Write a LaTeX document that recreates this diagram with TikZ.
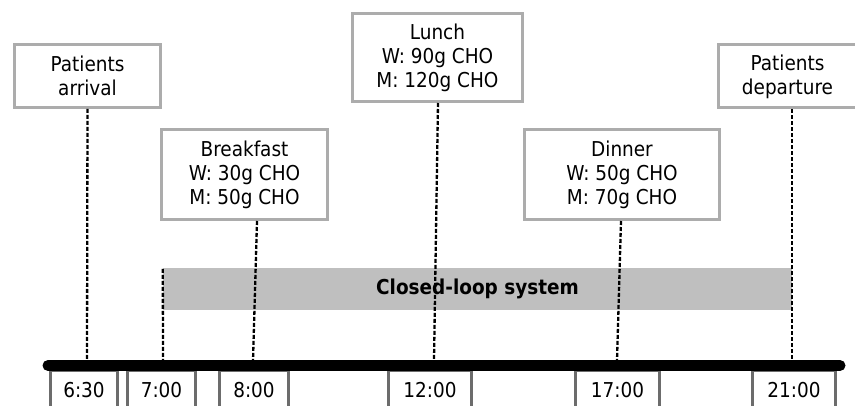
\documentclass[tikz,border=0pt]{standalone}
\usepackage{fontspec}
\setmainfont{DejaVu Sans Condensed}
\begin{document}
\begin{tikzpicture}[x=1pt,y=-1pt,
  eventbox/.style={draw=gray!65, line width=3pt, fill=white, align=center,
    inner sep=0pt, font=\fontsize{20.5}{24}\selectfont},
  timebox/.style={draw=gray!85!black, line width=3pt, fill=white,
    inner sep=0pt, minimum height=38pt, font=\fontsize{20.5}{24}\selectfont},
  marker/.style={black, line width=2.3pt, dash pattern=on 4pt off 2pt},
  axis/.style={black, line width=11pt, line cap=round}]
\clip (0,0) rectangle (855,406);
\useasboundingbox (0,0) rectangle (855,406);

% closed-loop band
\node[fill=gray!50, minimum width=629pt, minimum height=42pt, inner sep=0pt,
  font=\fontsize{20.5}{24}\selectfont\bfseries] (cls) at (477.5,289) {Closed-loop system};

% event boxes
\node[eventbox, minimum width=146pt, minimum height=63pt] (arr) at (87.5,76) {Patients\\arrival};
\node[eventbox, minimum width=166pt, minimum height=90pt] (bf) at (244.5,174.5) {Breakfast\\W: 30g CHO\\M: 50g CHO};
\node[eventbox, minimum width=170pt, minimum height=88pt] (lu) at (437.5,57.5) {Lunch\\W: 90g CHO\\M: 120g CHO};
\node[eventbox, minimum width=195pt, minimum height=90pt] (di) at (622,174.5) {Dinner\\W: 50g CHO\\M: 70g CHO};
\node[eventbox, minimum width=138pt, minimum height=63pt] (dep) at (787.5,76.5) {Patients\\departure};

% time labels
\node[timebox, minimum width=67pt] (h630) at (84,390) {6:30};
\node[timebox, minimum width=68pt] (h700) at (161.5,390) {7:00};
\node[timebox, minimum width=69pt] (h800) at (254,390) {8:00};
\node[timebox, minimum width=83pt] (h1200) at (430,390) {12:00};
\node[timebox, minimum width=84pt] (h1700) at (617.5,390) {17:00};
\node[timebox, minimum width=83pt] (h2100) at (794,390) {21:00};

% points on the time axis
\coordinate (t630) at (87,361);
\coordinate (t700) at (163,361);
\coordinate (t800) at (253,361);
\coordinate (t1200) at (434,361);
\coordinate (t1700) at (617,361);
\coordinate (t2100) at (792,361);
\coordinate (axL) at (48,365.5);
\coordinate (axR) at (840,365.5);

% dashed markers
\draw[marker] (arr.south) -- (t630);
\draw[marker] ([yshift=-1pt]cls.north west) -- (t700);
\draw[marker] ([xshift=12.5pt]bf.south) -- (t800);
\draw[marker] ([xshift=0.5pt]lu.south) -- (t1200);
\draw[marker] ([xshift=-1pt]di.south) -- (t1700);
\draw[marker] ([xshift=4.5pt]dep.south) -- (t2100);

% time axis
\draw[axis] (axL) -- (axR);
\end{tikzpicture}
\end{document}
